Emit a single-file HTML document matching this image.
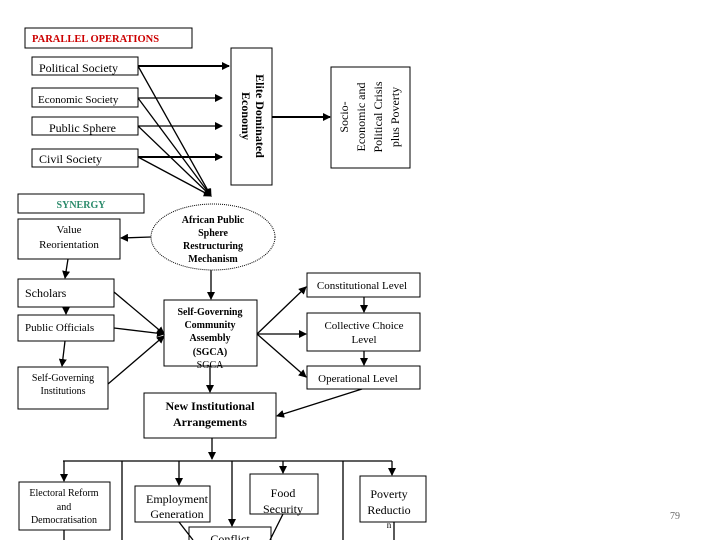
<!DOCTYPE html>
<html><head><meta charset="utf-8"><style>
body{margin:0;background:#fff}
svg{display:block}
text{font-family:"Liberation Serif",serif;fill:#000}
</style></head><body>
<svg width="720" height="540" viewBox="0 0 720 540" xmlns="http://www.w3.org/2000/svg">
<defs>
<marker id="a" markerWidth="8" markerHeight="8" refX="7" refY="4" orient="auto" markerUnits="userSpaceOnUse">
<path d="M0,0 L8,4 L0,8 z" fill="#000"/></marker>
</defs>
<g fill="none" stroke="#000" stroke-width="1">
<rect x="25" y="28" width="167" height="20"/>
<rect x="32" y="57" width="106" height="18"/>
<rect x="32" y="88" width="106" height="19"/>
<rect x="32" y="117" width="106" height="18"/>
<rect x="32" y="149" width="106" height="18"/>
<rect x="231" y="48" width="41" height="137"/>
<rect x="331" y="67" width="79" height="101"/>
<rect x="18" y="194" width="126" height="19"/>
<ellipse cx="213" cy="237" rx="62" ry="33" stroke-dasharray="1,1"/>
<rect x="18" y="219" width="102" height="40"/>
<rect x="18" y="279" width="96" height="28"/>
<rect x="18" y="315" width="96" height="26"/>
<rect x="18" y="367" width="90" height="42"/>
<rect x="164" y="300" width="93" height="66"/>
<rect x="307" y="273" width="113" height="24"/>
<rect x="307" y="313" width="113" height="38"/>
<rect x="307" y="366" width="113" height="23"/>
<rect x="144" y="393" width="132" height="45"/>
<rect x="19" y="482" width="91" height="48"/>
<rect x="135" y="486" width="75" height="36"/>
<rect x="250" y="474" width="68" height="40"/>
<rect x="360" y="476" width="66" height="46"/>
<rect x="189" y="527" width="82" height="20"/>
</g>
<g stroke="#000" stroke-width="1.3" fill="none">
<line x1="138" y1="66" x2="229" y2="66" marker-end="url(#a)" stroke-width="2"/>
<line x1="138" y1="98" x2="222" y2="98" marker-end="url(#a)"/>
<line x1="138" y1="126" x2="222" y2="126" marker-end="url(#a)"/>
<line x1="138" y1="157" x2="222" y2="157" marker-end="url(#a)" stroke-width="2"/>
<line x1="138" y1="66" x2="211" y2="196" marker-end="url(#a)"/>
<line x1="138" y1="98" x2="211" y2="196" marker-end="url(#a)"/>
<line x1="138" y1="126" x2="211" y2="196" marker-end="url(#a)"/>
<line x1="138" y1="157" x2="211" y2="196" marker-end="url(#a)"/>
<line x1="272" y1="117" x2="330" y2="117" marker-end="url(#a)" stroke-width="2"/>
<line x1="151" y1="237" x2="121" y2="238" marker-end="url(#a)"/>
<line x1="68" y1="259" x2="65" y2="278" marker-end="url(#a)"/>
<line x1="66" y1="307" x2="66" y2="314" marker-end="url(#a)"/>
<line x1="65" y1="341" x2="62" y2="366" marker-end="url(#a)"/>
<line x1="211" y1="270" x2="211" y2="299" marker-end="url(#a)"/>
<line x1="114" y1="292" x2="164" y2="334" marker-end="url(#a)"/>
<line x1="114" y1="328" x2="164" y2="334" marker-end="url(#a)"/>
<line x1="108" y1="384" x2="164" y2="336" marker-end="url(#a)"/>
<line x1="257" y1="334" x2="306" y2="287" marker-end="url(#a)"/>
<line x1="257" y1="334" x2="306" y2="334" marker-end="url(#a)"/>
<line x1="257" y1="334" x2="306" y2="377" marker-end="url(#a)"/>
<line x1="364" y1="297" x2="364" y2="312" marker-end="url(#a)"/>
<line x1="364" y1="351" x2="364" y2="365" marker-end="url(#a)"/>
<line x1="210" y1="366" x2="210" y2="392" marker-end="url(#a)"/>
<line x1="362" y1="389" x2="277" y2="416" marker-end="url(#a)"/>
<line x1="212" y1="438" x2="212" y2="459" marker-end="url(#a)"/>
<line x1="63" y1="461" x2="392" y2="461"/>
<line x1="64" y1="461" x2="64" y2="481" marker-end="url(#a)"/>
<line x1="179" y1="461" x2="179" y2="485" marker-end="url(#a)"/>
<line x1="283" y1="461" x2="283" y2="473" marker-end="url(#a)"/>
<line x1="392" y1="461" x2="392" y2="475" marker-end="url(#a)"/>
<line x1="122" y1="461" x2="122" y2="540"/>
<line x1="232" y1="461" x2="232" y2="526" marker-end="url(#a)"/>
<line x1="343" y1="461" x2="343" y2="540"/>
<line x1="64" y1="530" x2="64" y2="540"/>
<line x1="394" y1="522" x2="394" y2="540"/>
<line x1="179" y1="522" x2="193" y2="540"/>
<line x1="283" y1="514" x2="270" y2="540"/>
</g>
<text x="32" y="42" font-size="10.5" font-weight="bold" fill="#c00" style="fill:#c00">PARALLEL OPERATIONS</text>
<text x="39" y="72" font-size="12">Political Society</text>
<text x="38" y="103" font-size="11">Economic Society</text>
<text x="49" y="132" font-size="12">Public Sphere</text>
<text x="39" y="163" font-size="12">Civil Society</text>
<g transform="translate(251,116) rotate(90)"><text x="0" y="-5" font-size="12" font-weight="bold" text-anchor="middle">Elite Dominated</text><text x="0" y="9" font-size="12" font-weight="bold" text-anchor="middle">Economy</text></g>
<g transform="translate(370,117) rotate(-90)" font-size="12" text-anchor="middle"><text x="0" y="-22">Socio-</text><text x="0" y="-5">Economic and</text><text x="0" y="12">Political Crisis</text><text x="0" y="29">plus Poverty</text></g>
<text x="81" y="208" font-size="10" font-weight="bold" text-anchor="middle" style="fill:#2a8a6a">SYNERGY</text>
<g font-size="10" font-weight="bold" text-anchor="middle"><text x="213" y="223">African Public</text><text x="213" y="236">Sphere</text><text x="213" y="249">Restructuring</text><text x="213" y="262">Mechanism</text></g>
<g font-size="11" text-anchor="middle"><text x="69" y="233">Value</text><text x="69" y="248">Reorientation</text></g>
<text x="25" y="297" font-size="12">Scholars</text>
<text x="25" y="331" font-size="11">Public Officials</text>
<g font-size="10" text-anchor="middle"><text x="63" y="381">Self-Governing</text><text x="63" y="394">Institutions</text></g>
<g font-size="10" font-weight="bold" text-anchor="middle"><text x="210" y="315">Self-Governing</text><text x="210" y="328">Community</text><text x="210" y="341">Assembly</text><text x="210" y="355">(SGCA)</text></g>
<text x="210" y="368" font-size="10" text-anchor="middle">SGCA</text>
<text x="362" y="289" font-size="11" text-anchor="middle">Constitutional Level</text>
<g font-size="11" text-anchor="middle"><text x="364" y="329">Collective Choice</text><text x="364" y="343">Level</text></g>
<text x="358" y="382" font-size="11" text-anchor="middle">Operational Level</text>
<g font-size="12" font-weight="bold" text-anchor="middle"><text x="210" y="410">New Institutional</text><text x="210" y="426">Arrangements</text></g>
<g font-size="10" text-anchor="middle"><text x="64" y="496">Electoral Reform</text><text x="64" y="510">and</text><text x="64" y="523">Democratisation</text></g>
<g font-size="12" text-anchor="middle"><text x="177" y="503">Employment</text><text x="177" y="518">Generation</text></g>
<g font-size="12" text-anchor="middle"><text x="283" y="497">Food</text><text x="283" y="513">Security</text></g>
<g font-size="12" text-anchor="middle"><text x="389" y="498">Poverty</text><text x="389" y="514">Reductio</text><text x="389" y="528" font-size="9">n</text></g>
<text x="230" y="543" font-size="12" text-anchor="middle">Conflict</text>
<text x="670" y="519" font-size="10" style="fill:#666">79</text>
</svg>
</body></html>
